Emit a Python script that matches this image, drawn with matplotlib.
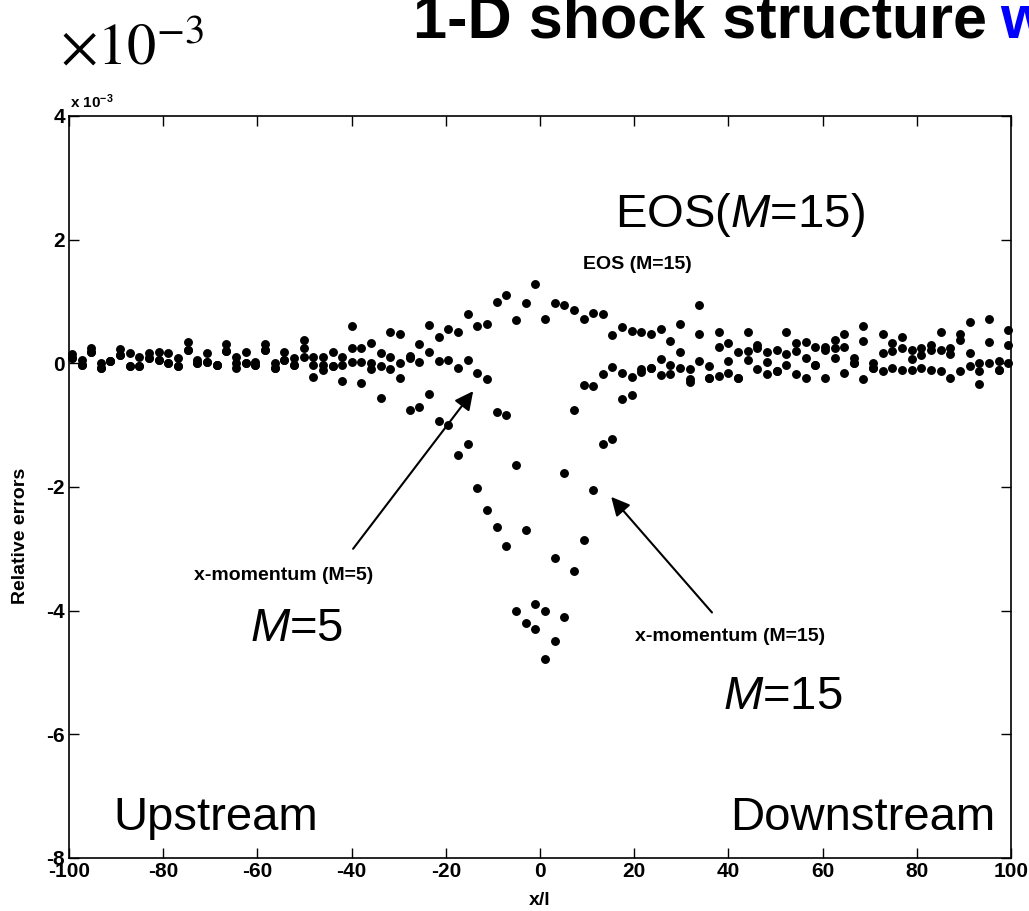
import numpy as np
import matplotlib
matplotlib.use("Agg")
import matplotlib.pyplot as plt

plt.rcParams['font.family'] = ['Liberation Sans', 'DejaVu Sans']
plt.rcParams['mathtext.fontset'] = 'custom'
plt.rcParams['mathtext.rm'] = 'Liberation Sans'
plt.rcParams['mathtext.it'] = 'Liberation Sans:italic'
plt.rcParams['mathtext.bf'] = 'Liberation Sans:bold'

# grid of cell centres (98 cells)
x_cells = np.linspace(-99.4, 99.4, 98)

# relative errors, in units of 1e-3
eos_m15 = [0.15, 0.05, 0.24, 0.01, 0.04, 0.23, 0.17, 0.11, 0.17, 0.19,
           0.17, 0.09, 0.35, 0.06, 0.16, -0.03, 0.31, 0.10, 0.19, 0.02,
           0.32, 0.00, 0.18, 0.09, 0.38, 0.10, 0.10, 0.18, 0.10, 0.61,
           0.24, 0.33, 0.17, 0.50, 0.47, 0.12, 0.31, 0.62, 0.42, 0.56,
           0.50, 0.79, 0.60, 0.64, 0.99, 1.10, 0.70, 0.98, 1.28, 0.72,
           0.98, 0.95, 0.87, 0.72, 0.81, 0.79, 0.45, 0.59, 0.53, 0.51,
           0.48, 0.55, 0.36, 0.64, -0.10, 0.95, -0.05, 0.50, 0.33, 0.18,
           0.51, 0.29, 0.18, 0.22, 0.51, 0.33, 0.34, 0.26, 0.27, 0.37,
           0.48, 0.09, 0.60, 0.00, 0.48, 0.33, 0.42, 0.21, 0.24, 0.29,
           0.51, 0.24, 0.48, 0.67, 0.00, 0.71, 0.04, 0.54]
xmom_m5 = [0.09, -0.03, 0.18, -0.07, 0.04, 0.13, -0.05, -0.05, 0.08, 0.06,
           0.00, -0.05, 0.21, 0.00, 0.02, -0.03, 0.20, 0.01, 0.01, -0.03,
           0.22, -0.07, 0.05, -0.03, 0.25, -0.03, -0.03, -0.04, -0.03, 0.25,
           0.02, 0.00, -0.05, 0.10, 0.00, 0.09, 0.02, 0.19, 0.03, 0.05,
           -0.07, 0.05, -0.15, -0.25, -0.79, -0.83, -1.65, -2.70, -3.89, -4.00,
           -3.15, -1.77, -0.75, -0.35, -0.36, -0.18, -0.06, -0.15, -0.22, -0.10,
           -0.08, 0.07, -0.03, 0.19, -0.25, 0.47, -0.24, 0.27, 0.03, -0.24,
           0.20, 0.24, 0.02, -0.12, 0.15, 0.20, 0.09, -0.03, 0.21, 0.24,
           0.27, 0.00, 0.36, -0.08, 0.17, 0.20, 0.24, 0.07, 0.13, 0.21,
           0.21, 0.15, 0.37, 0.17, -0.12, 0.34, -0.11, 0.29]
xmom_m15 = [0.09, -0.03, 0.18, -0.07, 0.04, 0.13, -0.05, -0.05, 0.08, 0.06,
            0.00, -0.05, 0.21, 0.00, 0.02, -0.03, 0.20, -0.08, 0.01, -0.03,
            0.22, -0.07, 0.05, -0.03, 0.11, -0.22, -0.11, -0.04, -0.28, 0.02,
            -0.32, -0.10, -0.56, -0.10, -0.24, -0.75, -0.70, -0.50, -0.93, -0.99,
            -1.49, -1.30, -2.02, -2.38, -2.65, -2.96, -4.00, -4.20, -4.29, -4.79,
            -4.49, -4.10, -3.36, -2.86, -2.05, -1.31, -1.22, -0.58, -0.51, -0.14,
            -0.08, -0.19, -0.17, -0.07, -0.30, 0.03, -0.24, -0.20, -0.16, -0.24,
            0.05, -0.10, -0.18, -0.12, -0.02, -0.17, -0.23, -0.03, -0.24, 0.08,
            -0.15, 0.00, -0.26, -0.08, -0.12, -0.07, -0.11, -0.11, -0.07, -0.11,
            -0.12, -0.24, -0.12, -0.04, -0.33, 0.01, -0.11, 0.00]

x_ticks = [-100, -80, -60, -40, -20, 0, 20, 40, 60, 80, 100]
y_ticks = [-8, -6, -4, -2, 0, 2, 4]

fig = plt.figure(figsize=(10.29, 9.11), dpi=100)
ax = fig.add_axes([0.0671, 0.0582, 0.9155, 0.8145])

for ys in (eos_m15, xmom_m5, xmom_m15):
    ax.plot(x_cells, ys, 'o', color='k', ms=5.4, mec='k', clip_on=False)

ax.set_xlim(-100, 100)
ax.set_ylim(-8, 4)
ax.set_xticks(x_ticks)
ax.set_yticks(y_ticks)
ax.set_xticklabels([str(t) for t in x_ticks], fontsize=15, fontweight='bold')
ax.set_yticklabels([str(t) for t in y_ticks], fontsize=15, fontweight='bold')
ax.tick_params(direction='in', length=7, width=1, top=True, right=True, pad=3)
for s in ax.spines.values():
    s.set_linewidth(1.2)
ax.set_xlabel('x/l', fontsize=14, fontweight='bold', va='center')
ax.xaxis.set_label_coords(0.5, -0.057)
ax.set_ylabel('Relative errors', fontsize=14, fontweight='bold', va='center')
ax.yaxis.set_label_coords(-0.052, 0.434)

# small exponent label at the top of the axis
fig.text(70 / 1029, 1 - 108 / 911, r'x 10$^{\mathbf{-3}}$', fontsize=11,
         fontweight='bold', ha='left', va='baseline')

# big serif exponent and the clipped slide title
fig.text(60 / 1029, 1 - 65 / 911, r'$\times10^{-3}$', fontsize=42,
         math_fontfamily='stix', ha='left', va='baseline')
fig.text(413 / 1029, 1 - 38 / 911, '1-D shock structure', fontsize=44,
         fontweight='bold', ha='left', va='baseline')
fig.text(1000 / 1029, 1 - 38 / 911, 'w', fontsize=44, fontweight='bold',
         color='#0000ff', ha='left', va='baseline')

# annotations
ax.text(20.6, 1.6, 'EOS (M=15)', fontsize=14, fontweight='bold',
        ha='center', va='center')
ax.text(42.5, 2.40, r'EOS($\mathit{M}$=15)', fontsize=34, ha='center', va='center')
ax.annotate('', xy=(-14.2, -0.45), xytext=(-39.7, -3.0),
            arrowprops=dict(arrowstyle='-|>', color='k', lw=1.5,
                            mutation_scale=28, shrinkA=0, shrinkB=0))
ax.text(-54.4, -3.43, 'x-momentum (M=5)', fontsize=14, fontweight='bold',
        ha='center', va='center')
ax.text(-51.6, -4.29, r'$\mathit{M}$=5', fontsize=34, ha='center', va='center')
ax.annotate('', xy=(15.1, -2.16), xytext=(36.5, -4.03),
            arrowprops=dict(arrowstyle='-|>', color='k', lw=1.5,
                            mutation_scale=28, shrinkA=0, shrinkB=0))
ax.text(40.3, -4.42, 'x-momentum (M=15)', fontsize=14, fontweight='bold',
        ha='center', va='center')
ax.text(51.6, -5.40, r'$\mathit{M}$=15', fontsize=34, ha='center', va='center')
ax.text(-68.8, -7.36, 'Upstream', fontsize=34, ha='center', va='center')
ax.text(68.6, -7.36, 'Downstream', fontsize=34, ha='center', va='center')

fig.savefig('out.png', dpi=100)
